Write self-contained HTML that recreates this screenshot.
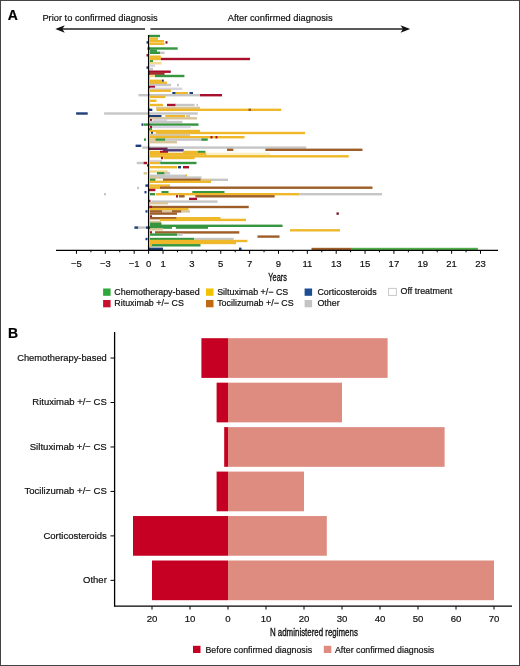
<!DOCTYPE html>
<html><head><meta charset="utf-8"><style>
html,body{margin:0;padding:0;background:#fff;}
#c{position:relative;width:520px;height:666px;overflow:hidden;background:#fff;}
#b{position:absolute;left:0;top:0;width:518px;height:664px;border:1px solid #444;}
</style></head><body><div id="c"><svg width="520" height="666" viewBox="0 0 520 666" style="position:absolute;left:0;top:0;will-change:transform;font-family:'Liberation Sans',sans-serif"><text x="7.80" y="19.70" font-size="14" text-anchor="start" font-weight="bold" fill="#000" stroke="#000" stroke-width="0.2" >A</text><text x="42.40" y="20.90" font-size="9.3" text-anchor="start" font-weight="normal" fill="#111" stroke="#111" stroke-width="0.2" >Prior to confirmed diagnosis</text><text x="227.70" y="20.90" font-size="9.3" text-anchor="start" font-weight="normal" fill="#111" stroke="#111" stroke-width="0.2" >After confirmed diagnosis</text><line x1="62.00" y1="28.95" x2="145.00" y2="28.95" stroke="#222" stroke-width="1.6"/><line x1="150.40" y1="28.95" x2="403.00" y2="28.95" stroke="#222" stroke-width="1.6"/><path d="M55.3,28.9 L64.8,25.2 L62.3,28.9 L64.8,32.7 Z" fill="#111"/><path d="M410.2,28.9 L400.5,25.2 L403,28.9 L400.5,32.7 Z" fill="#111"/><rect x="148.80" y="34.80" width="11.20" height="2.40" fill="#35963f" /><rect x="150.00" y="37.50" width="8.00" height="2.40" fill="#eeb82a" /><rect x="150.00" y="40.00" width="14.00" height="2.40" fill="#eeb82a" /><rect x="165.50" y="41.20" width="2.00" height="2.40" fill="#7a0f25" /><rect x="146.50" y="41.20" width="2.00" height="2.40" fill="#1f3f7a" /><rect x="150.00" y="42.60" width="14.50" height="2.40" fill="#eeb82a" /><rect x="148.80" y="47.30" width="28.90" height="2.40" fill="#35963f" /><rect x="147.50" y="47.30" width="2.00" height="2.40" fill="#1f3f7a" /><rect x="150.00" y="49.50" width="7.00" height="2.40" fill="#35963f" /><rect x="150.00" y="51.60" width="10.00" height="2.40" fill="#35963f" /><rect x="160.00" y="51.60" width="4.60" height="2.40" fill="#c6c6c6" /><rect x="146.50" y="54.10" width="2.00" height="2.40" fill="#a80f2c" /><rect x="150.00" y="55.50" width="10.80" height="2.40" fill="#eeb82a" /><rect x="150.00" y="57.80" width="10.80" height="2.40" fill="#eeb82a" /><rect x="160.80" y="57.80" width="89.20" height="2.40" fill="#a80f2c" /><rect x="150.00" y="60.10" width="3.00" height="2.40" fill="#35963f" /><rect x="150.00" y="62.10" width="11.50" height="2.40" fill="#f3d98a" /><rect x="150.00" y="64.40" width="5.00" height="2.40" fill="#d8d3e3" /><rect x="146.50" y="66.40" width="2.00" height="2.40" fill="#1f3f7a" /><rect x="150.00" y="67.80" width="3.00" height="2.40" fill="#c6c6c6" /><rect x="148.80" y="70.50" width="22.00" height="2.40" fill="#a80f2c" /><rect x="148.80" y="72.50" width="15.80" height="2.40" fill="#a3302a" /><rect x="150.00" y="74.80" width="5.00" height="2.40" fill="#f3d98a" /><rect x="155.00" y="74.80" width="29.40" height="2.40" fill="#35963f" /><rect x="150.00" y="79.60" width="13.00" height="2.40" fill="#eeb82a" /><rect x="162.00" y="79.60" width="1.80" height="2.40" fill="#1f3f7a" /><rect x="150.00" y="81.60" width="16.90" height="2.40" fill="#eeb82a" /><rect x="150.00" y="83.80" width="21.00" height="2.40" fill="#c6c6c6" /><rect x="177.00" y="83.80" width="2.00" height="2.40" fill="#c6c6c6" /><rect x="148.80" y="85.80" width="6.20" height="2.40" fill="#a80f2c" /><rect x="150.00" y="87.60" width="32.30" height="2.40" fill="#d8d3e3" /><rect x="150.00" y="89.50" width="21.00" height="2.40" fill="#eeb82a" /><rect x="172.30" y="92.00" width="3.40" height="2.40" fill="#1f3f7a" /><rect x="175.70" y="92.00" width="12.30" height="2.40" fill="#eeb82a" /><rect x="189.50" y="92.00" width="3.50" height="2.40" fill="#1f3f7a" /><rect x="138.50" y="94.00" width="61.50" height="2.40" fill="#c6c6c6" /><rect x="200.00" y="94.00" width="22.00" height="2.40" fill="#a80f2c" /><rect x="150.00" y="95.70" width="15.40" height="2.40" fill="#eeb82a" /><rect x="150.00" y="99.60" width="6.50" height="2.40" fill="#eeb82a" /><rect x="150.00" y="103.80" width="13.00" height="2.40" fill="#eeb82a" /><rect x="167.00" y="103.80" width="8.70" height="2.40" fill="#a80f2c" /><rect x="175.70" y="103.80" width="18.90" height="2.40" fill="#c6c6c6" /><rect x="196.50" y="103.80" width="1.50" height="2.40" fill="#c6c6c6" /><rect x="156.00" y="106.70" width="44.00" height="2.40" fill="#d9c59a" /><rect x="148.80" y="108.60" width="3.50" height="2.40" fill="#1f3f7a" /><rect x="156.50" y="108.60" width="124.75" height="2.40" fill="#eeb82a" /><rect x="248.50" y="108.60" width="2.50" height="2.40" fill="#9e5e28" /><rect x="76.10" y="112.30" width="11.60" height="2.40" fill="#1f3f7a" /><rect x="104.10" y="112.30" width="93.60" height="2.40" fill="#c6c6c6" /><rect x="148.80" y="115.00" width="12.70" height="2.40" fill="#1f3f7a" /><rect x="165.40" y="115.00" width="19.60" height="2.40" fill="#eeb82a" /><rect x="186.00" y="115.00" width="4.00" height="2.40" fill="#d9c59a" /><rect x="150.00" y="117.10" width="47.00" height="2.40" fill="#d9c59a" /><rect x="150.00" y="119.00" width="2.00" height="2.40" fill="#a80f2c" /><rect x="153.00" y="119.00" width="14.00" height="2.40" fill="#d8d3e3" /><rect x="150.00" y="120.80" width="32.30" height="2.40" fill="#c6c6c6" /><rect x="141.50" y="123.40" width="1.70" height="2.40" fill="#1f3f7a" /><rect x="143.50" y="123.40" width="55.00" height="2.40" fill="#35963f" /><rect x="150.00" y="125.80" width="40.80" height="2.40" fill="#d8d3e3" /><rect x="150.00" y="125.80" width="2.00" height="2.40" fill="#a80f2c" /><rect x="148.80" y="128.10" width="3.20" height="2.40" fill="#35963f" /><rect x="150.00" y="129.80" width="50.00" height="2.40" fill="#eeb82a" /><rect x="156.00" y="131.80" width="149.00" height="2.40" fill="#eeb82a" /><rect x="151.00" y="131.80" width="2.00" height="2.40" fill="#1f3f7a" /><rect x="150.00" y="133.70" width="40.00" height="2.40" fill="#d9c59a" /><rect x="150.00" y="136.00" width="94.50" height="2.40" fill="#eeb82a" /><rect x="210.50" y="136.00" width="2.00" height="2.40" fill="#a80f2c" /><rect x="215.50" y="136.00" width="2.00" height="2.40" fill="#a80f2c" /><rect x="150.00" y="138.40" width="5.40" height="2.40" fill="#d9c59a" /><rect x="155.40" y="138.40" width="10.10" height="2.40" fill="#35963f" /><rect x="165.00" y="138.40" width="38.00" height="2.40" fill="#c6c6c6" /><rect x="201.50" y="138.40" width="6.20" height="2.40" fill="#35963f" /><rect x="144.00" y="138.40" width="2.00" height="2.40" fill="#35963f" /><rect x="150.00" y="141.00" width="27.00" height="2.40" fill="#d9c59a" /><rect x="135.60" y="144.60" width="5.70" height="2.40" fill="#1f3f7a" /><rect x="142.30" y="146.40" width="164.00" height="2.40" fill="#c6c6c6" /><rect x="148.80" y="147.60" width="18.70" height="2.40" fill="#6a1f45" /><rect x="227.00" y="148.60" width="6.30" height="2.40" fill="#9e5e28" /><rect x="265.40" y="148.60" width="97.10" height="2.40" fill="#9e5e28" /><rect x="162.80" y="149.10" width="20.90" height="2.40" fill="#4a3a78" /><rect x="150.00" y="150.80" width="12.00" height="2.40" fill="#eeb82a" /><rect x="160.00" y="150.80" width="8.00" height="2.40" fill="#a80f2c" /><rect x="183.00" y="150.80" width="14.80" height="2.40" fill="#eeb82a" /><rect x="197.80" y="150.80" width="7.60" height="2.40" fill="#35963f" /><rect x="150.00" y="152.70" width="56.50" height="2.40" fill="#eeb82a" /><rect x="206.50" y="152.70" width="63.50" height="2.40" fill="#f9eec4" /><rect x="150.00" y="155.10" width="198.75" height="2.40" fill="#eeb82a" /><rect x="164.00" y="156.80" width="30.60" height="2.40" fill="#eeb82a" /><rect x="161.00" y="156.80" width="2.00" height="2.40" fill="#a80f2c" /><rect x="150.00" y="159.80" width="12.00" height="2.40" fill="#d8d3e3" /><rect x="136.70" y="161.80" width="6.90" height="2.40" fill="#c6c6c6" /><rect x="143.60" y="161.80" width="3.50" height="2.40" fill="#a80f2c" /><rect x="150.00" y="161.80" width="10.00" height="2.40" fill="#eeb82a" /><rect x="160.20" y="161.80" width="36.30" height="2.40" fill="#35963f" /><rect x="147.00" y="164.20" width="1.80" height="2.40" fill="#1f3f7a" /><rect x="150.00" y="166.00" width="27.00" height="2.40" fill="#eeb82a" /><rect x="178.00" y="166.00" width="3.00" height="2.40" fill="#1f3f7a" /><rect x="183.00" y="166.00" width="6.00" height="2.40" fill="#a80f2c" /><rect x="150.00" y="170.30" width="17.70" height="2.40" fill="#f3d98a" /><rect x="143.60" y="172.10" width="3.40" height="2.40" fill="#d9c59a" /><rect x="157.00" y="172.10" width="7.60" height="2.40" fill="#35963f" /><rect x="164.60" y="172.10" width="5.40" height="2.40" fill="#c6c6c6" /><rect x="150.00" y="174.60" width="36.00" height="2.40" fill="#c6c6c6" /><rect x="185.00" y="174.60" width="2.00" height="2.40" fill="#eeb82a" /><rect x="150.00" y="176.40" width="9.00" height="2.40" fill="#d9c59a" /><rect x="159.00" y="176.40" width="42.50" height="2.40" fill="#c6c6c6" /><rect x="150.00" y="178.60" width="5.40" height="2.40" fill="#35963f" /><rect x="163.00" y="178.60" width="37.80" height="2.40" fill="#9e5e28" /><rect x="200.80" y="178.60" width="11.20" height="2.40" fill="#d9c59a" /><rect x="212.00" y="178.60" width="16.00" height="2.40" fill="#c6c6c6" /><rect x="150.00" y="180.60" width="61.00" height="2.40" fill="#eeb82a" /><rect x="145.40" y="184.40" width="3.40" height="2.40" fill="#1f3f7a" /><rect x="150.00" y="184.40" width="20.00" height="2.40" fill="#eeb82a" /><rect x="150.00" y="186.50" width="10.00" height="2.40" fill="#eeb82a" /><rect x="160.00" y="186.50" width="212.50" height="2.40" fill="#9e5e28" /><rect x="148.00" y="188.80" width="7.40" height="2.40" fill="#a80f2c" /><rect x="137.00" y="186.80" width="2.00" height="2.40" fill="#c6c6c6" /><rect x="144.50" y="191.00" width="2.00" height="2.40" fill="#1f3f7a" /><rect x="161.50" y="191.00" width="7.00" height="2.40" fill="#35963f" /><rect x="192.30" y="191.00" width="32.20" height="2.40" fill="#35963f" /><rect x="150.00" y="193.00" width="5.00" height="2.40" fill="#35963f" /><rect x="156.00" y="193.00" width="143.60" height="2.40" fill="#eeb82a" /><rect x="299.60" y="193.00" width="82.40" height="2.40" fill="#c6c6c6" /><rect x="104.00" y="193.00" width="2.00" height="2.40" fill="#c6c6c6" /><rect x="176.00" y="195.10" width="2.00" height="2.40" fill="#a80f2c" /><rect x="179.00" y="195.10" width="5.60" height="2.40" fill="#9e5e28" /><rect x="195.40" y="195.10" width="79.20" height="2.40" fill="#9e5e28" /><rect x="189.00" y="197.70" width="8.00" height="2.40" fill="#a80f2c" /><rect x="148.50" y="199.80" width="2.00" height="2.40" fill="#a80f2c" /><rect x="151.50" y="200.40" width="66.00" height="2.40" fill="#c6c6c6" /><rect x="150.00" y="202.00" width="18.00" height="2.40" fill="#d9c59a" /><rect x="148.80" y="205.80" width="99.95" height="2.40" fill="#9e5e28" /><rect x="150.00" y="205.80" width="2.00" height="2.40" fill="#a80f2c" /><rect x="150.00" y="208.00" width="38.50" height="2.40" fill="#eeb82a" /><rect x="145.50" y="210.20" width="2.00" height="2.40" fill="#1f3f7a" /><rect x="150.00" y="210.20" width="12.30" height="2.40" fill="#9e5e28" /><rect x="162.30" y="210.20" width="9.70" height="2.40" fill="#d9c59a" /><rect x="172.00" y="210.20" width="9.50" height="2.40" fill="#9e5e28" /><rect x="181.50" y="210.20" width="8.50" height="2.40" fill="#d9c59a" /><rect x="150.00" y="212.40" width="27.00" height="2.40" fill="#9e5e28" /><rect x="336.50" y="212.40" width="2.30" height="2.40" fill="#7a0f25" /><rect x="150.00" y="215.30" width="2.00" height="2.40" fill="#a80f2c" /><rect x="150.00" y="217.00" width="26.70" height="2.40" fill="#9e5e28" /><rect x="176.70" y="217.00" width="43.80" height="2.40" fill="#eeb82a" /><rect x="160.00" y="218.70" width="86.00" height="2.40" fill="#eeb82a" /><rect x="150.00" y="220.80" width="11.00" height="2.40" fill="#d9c59a" /><rect x="150.00" y="222.60" width="11.50" height="2.40" fill="#35963f" /><rect x="150.00" y="224.60" width="132.50" height="2.40" fill="#35963f" /><rect x="134.40" y="226.40" width="3.90" height="2.40" fill="#1f3f7a" /><rect x="138.30" y="226.40" width="7.70" height="2.40" fill="#c6c6c6" /><rect x="146.00" y="226.40" width="4.00" height="2.40" fill="#1f3f7a" /><rect x="150.00" y="226.40" width="22.00" height="2.40" fill="#35963f" /><rect x="175.80" y="226.40" width="32.20" height="2.40" fill="#35963f" /><rect x="150.00" y="228.10" width="13.00" height="2.40" fill="#d9c59a" /><rect x="290.00" y="229.10" width="50.00" height="2.40" fill="#eeb82a" /><rect x="150.00" y="231.20" width="2.00" height="2.40" fill="#a80f2c" /><rect x="155.00" y="231.20" width="84.30" height="2.40" fill="#9e5e28" /><rect x="150.00" y="233.40" width="27.00" height="2.40" fill="#35963f" /><rect x="177.00" y="233.40" width="5.50" height="2.40" fill="#c6c6c6" /><rect x="257.50" y="235.40" width="22.00" height="2.40" fill="#9e5e28" /><rect x="145.50" y="237.80" width="2.00" height="2.40" fill="#1f3f7a" /><rect x="150.00" y="237.80" width="44.30" height="2.40" fill="#35963f" /><rect x="194.30" y="237.80" width="39.30" height="2.40" fill="#c6c6c6" /><rect x="150.00" y="239.80" width="97.40" height="2.40" fill="#eeb82a" /><rect x="150.00" y="241.80" width="86.00" height="2.40" fill="#eeb82a" /><rect x="150.00" y="244.10" width="50.50" height="2.40" fill="#35963f" /><rect x="150.00" y="244.10" width="2.00" height="2.40" fill="#eeb82a" /><rect x="148.80" y="247.60" width="14.20" height="2.40" fill="#1f3f7a" /><rect x="239.00" y="247.60" width="2.50" height="2.40" fill="#1f3f7a" /><rect x="311.50" y="247.80" width="39.50" height="2.40" fill="#9e5e28" /><rect x="351.00" y="247.80" width="126.90" height="2.40" fill="#4fae4a" /><line x1="56.00" y1="250.40" x2="498.00" y2="250.40" stroke="#000" stroke-width="1.3"/><line x1="148.60" y1="35.00" x2="148.60" y2="251.00" stroke="#000" stroke-width="1.3"/><line x1="76.45" y1="250.40" x2="76.45" y2="253.80" stroke="#000" stroke-width="1"/><line x1="90.88" y1="250.40" x2="90.88" y2="252.30" stroke="#000" stroke-width="1"/><line x1="105.31" y1="250.40" x2="105.31" y2="253.80" stroke="#000" stroke-width="1"/><line x1="119.74" y1="250.40" x2="119.74" y2="252.30" stroke="#000" stroke-width="1"/><line x1="134.17" y1="250.40" x2="134.17" y2="253.80" stroke="#000" stroke-width="1"/><line x1="148.60" y1="250.40" x2="148.60" y2="253.80" stroke="#000" stroke-width="1"/><line x1="163.03" y1="250.40" x2="163.03" y2="253.80" stroke="#000" stroke-width="1"/><line x1="177.46" y1="250.40" x2="177.46" y2="252.30" stroke="#000" stroke-width="1"/><line x1="191.89" y1="250.40" x2="191.89" y2="253.80" stroke="#000" stroke-width="1"/><line x1="206.32" y1="250.40" x2="206.32" y2="252.30" stroke="#000" stroke-width="1"/><line x1="220.75" y1="250.40" x2="220.75" y2="253.80" stroke="#000" stroke-width="1"/><line x1="235.18" y1="250.40" x2="235.18" y2="252.30" stroke="#000" stroke-width="1"/><line x1="249.61" y1="250.40" x2="249.61" y2="253.80" stroke="#000" stroke-width="1"/><line x1="264.04" y1="250.40" x2="264.04" y2="252.30" stroke="#000" stroke-width="1"/><line x1="278.47" y1="250.40" x2="278.47" y2="253.80" stroke="#000" stroke-width="1"/><line x1="292.90" y1="250.40" x2="292.90" y2="252.30" stroke="#000" stroke-width="1"/><line x1="307.33" y1="250.40" x2="307.33" y2="253.80" stroke="#000" stroke-width="1"/><line x1="321.76" y1="250.40" x2="321.76" y2="252.30" stroke="#000" stroke-width="1"/><line x1="336.19" y1="250.40" x2="336.19" y2="253.80" stroke="#000" stroke-width="1"/><line x1="350.62" y1="250.40" x2="350.62" y2="252.30" stroke="#000" stroke-width="1"/><line x1="365.05" y1="250.40" x2="365.05" y2="253.80" stroke="#000" stroke-width="1"/><line x1="379.48" y1="250.40" x2="379.48" y2="252.30" stroke="#000" stroke-width="1"/><line x1="393.91" y1="250.40" x2="393.91" y2="253.80" stroke="#000" stroke-width="1"/><line x1="408.34" y1="250.40" x2="408.34" y2="252.30" stroke="#000" stroke-width="1"/><line x1="422.77" y1="250.40" x2="422.77" y2="253.80" stroke="#000" stroke-width="1"/><line x1="437.20" y1="250.40" x2="437.20" y2="252.30" stroke="#000" stroke-width="1"/><line x1="451.63" y1="250.40" x2="451.63" y2="253.80" stroke="#000" stroke-width="1"/><line x1="466.06" y1="250.40" x2="466.06" y2="252.30" stroke="#000" stroke-width="1"/><line x1="480.49" y1="250.40" x2="480.49" y2="253.80" stroke="#000" stroke-width="1"/><text x="76.45" y="266.60" font-size="9.5" text-anchor="middle" font-weight="normal" fill="#111" stroke="#111" stroke-width="0.2" >−5</text><text x="105.31" y="266.60" font-size="9.5" text-anchor="middle" font-weight="normal" fill="#111" stroke="#111" stroke-width="0.2" >−3</text><text x="134.17" y="266.60" font-size="9.5" text-anchor="middle" font-weight="normal" fill="#111" stroke="#111" stroke-width="0.2" >−1</text><text x="148.60" y="266.60" font-size="9.5" text-anchor="middle" font-weight="normal" fill="#111" stroke="#111" stroke-width="0.2" >0</text><text x="163.03" y="266.60" font-size="9.5" text-anchor="middle" font-weight="normal" fill="#111" stroke="#111" stroke-width="0.2" >1</text><text x="191.89" y="266.60" font-size="9.5" text-anchor="middle" font-weight="normal" fill="#111" stroke="#111" stroke-width="0.2" >3</text><text x="220.75" y="266.60" font-size="9.5" text-anchor="middle" font-weight="normal" fill="#111" stroke="#111" stroke-width="0.2" >5</text><text x="249.61" y="266.60" font-size="9.5" text-anchor="middle" font-weight="normal" fill="#111" stroke="#111" stroke-width="0.2" >7</text><text x="278.47" y="266.60" font-size="9.5" text-anchor="middle" font-weight="normal" fill="#111" stroke="#111" stroke-width="0.2" >9</text><text x="307.33" y="266.60" font-size="9.5" text-anchor="middle" font-weight="normal" fill="#111" stroke="#111" stroke-width="0.2" >11</text><text x="336.19" y="266.60" font-size="9.5" text-anchor="middle" font-weight="normal" fill="#111" stroke="#111" stroke-width="0.2" >13</text><text x="365.05" y="266.60" font-size="9.5" text-anchor="middle" font-weight="normal" fill="#111" stroke="#111" stroke-width="0.2" >15</text><text x="393.91" y="266.60" font-size="9.5" text-anchor="middle" font-weight="normal" fill="#111" stroke="#111" stroke-width="0.2" >17</text><text x="422.77" y="266.60" font-size="9.5" text-anchor="middle" font-weight="normal" fill="#111" stroke="#111" stroke-width="0.2" >19</text><text x="451.63" y="266.60" font-size="9.5" text-anchor="middle" font-weight="normal" fill="#111" stroke="#111" stroke-width="0.2" >21</text><text x="480.49" y="266.60" font-size="9.5" text-anchor="middle" font-weight="normal" fill="#111" stroke="#111" stroke-width="0.2" >23</text><text x="277.60" y="280.80" font-size="11" text-anchor="middle" font-weight="normal" fill="#111" stroke="#111" stroke-width="0.35" transform="translate(277.6,0) scale(0.67,1) translate(-277.6,0)">Years</text><rect x="103.10" y="288.50" width="7.50" height="7.30" fill="#2ea83a" /><text x="114.30" y="294.80" font-size="8.9" text-anchor="start" font-weight="normal" fill="#111" stroke="#111" stroke-width="0.2" >Chemotherapy-based</text><rect x="103.10" y="300.00" width="7.50" height="7.30" fill="#c8102e" /><text x="114.30" y="306.30" font-size="8.9" text-anchor="start" font-weight="normal" fill="#111" stroke="#111" stroke-width="0.2" >Rituximab +/− CS</text><rect x="206.00" y="288.50" width="7.50" height="7.30" fill="#f2c100" /><text x="217.20" y="294.80" font-size="8.9" text-anchor="start" font-weight="normal" fill="#111" stroke="#111" stroke-width="0.2" >Siltuximab +/− CS</text><rect x="206.00" y="300.00" width="7.50" height="7.30" fill="#bf6a12" /><text x="217.20" y="306.30" font-size="8.9" text-anchor="start" font-weight="normal" fill="#111" stroke="#111" stroke-width="0.2" >Tocilizumab +/− CS</text><rect x="304.60" y="288.50" width="7.50" height="7.30" fill="#1d4e94" /><text x="317.40" y="294.80" font-size="8.9" text-anchor="start" font-weight="normal" fill="#111" stroke="#111" stroke-width="0.2" >Corticosteroids</text><rect x="304.60" y="300.00" width="7.50" height="7.30" fill="#c4c4c4" /><text x="317.40" y="306.30" font-size="8.9" text-anchor="start" font-weight="normal" fill="#111" stroke="#111" stroke-width="0.2" >Other</text><rect x="388.60" y="288.40" width="7.80" height="7.00" fill="#fff" stroke="#c8c8c8" stroke-width="1"/><text x="400.60" y="294.40" font-size="8.9" text-anchor="start" font-weight="normal" fill="#111" stroke="#111" stroke-width="0.2" >Off treatment</text><text x="8.00" y="338.20" font-size="14" text-anchor="start" font-weight="bold" fill="#000" stroke="#000" stroke-width="0.2" >B</text><rect x="201.40" y="338.20" width="26.60" height="39.70" fill="#c50022" /><rect x="228.00" y="338.20" width="159.60" height="39.70" fill="#de8c80" /><line x1="110.50" y1="358.05" x2="114.60" y2="358.05" stroke="#000" stroke-width="1"/><text x="17.20" y="360.95" font-size="9.6" text-anchor="start" font-weight="normal" fill="#111" stroke="#111" stroke-width="0.2" textLength="89.6" lengthAdjust="spacingAndGlyphs">Chemotherapy-based</text><rect x="216.60" y="382.66" width="11.40" height="39.70" fill="#c50022" /><rect x="228.00" y="382.66" width="114.00" height="39.70" fill="#de8c80" /><line x1="110.50" y1="402.51" x2="114.60" y2="402.51" stroke="#000" stroke-width="1"/><text x="32.30" y="405.41" font-size="9.6" text-anchor="start" font-weight="normal" fill="#111" stroke="#111" stroke-width="0.2" textLength="74.5" lengthAdjust="spacingAndGlyphs">Rituximab +/− CS</text><rect x="224.20" y="427.12" width="3.80" height="39.70" fill="#c50022" /><rect x="228.00" y="427.12" width="216.60" height="39.70" fill="#de8c80" /><line x1="110.50" y1="446.97" x2="114.60" y2="446.97" stroke="#000" stroke-width="1"/><text x="29.70" y="449.87" font-size="9.6" text-anchor="start" font-weight="normal" fill="#111" stroke="#111" stroke-width="0.2" textLength="77.1" lengthAdjust="spacingAndGlyphs">Siltuximab +/− CS</text><rect x="216.60" y="471.58" width="11.40" height="39.70" fill="#c50022" /><rect x="228.00" y="471.58" width="76.00" height="39.70" fill="#de8c80" /><line x1="110.50" y1="491.43" x2="114.60" y2="491.43" stroke="#000" stroke-width="1"/><text x="24.50" y="494.33" font-size="9.6" text-anchor="start" font-weight="normal" fill="#111" stroke="#111" stroke-width="0.2" textLength="82.3" lengthAdjust="spacingAndGlyphs">Tocilizumab +/− CS</text><rect x="133.00" y="516.04" width="95.00" height="39.70" fill="#c50022" /><rect x="228.00" y="516.04" width="98.80" height="39.70" fill="#de8c80" /><line x1="110.50" y1="535.89" x2="114.60" y2="535.89" stroke="#000" stroke-width="1"/><text x="43.40" y="538.79" font-size="9.6" text-anchor="start" font-weight="normal" fill="#111" stroke="#111" stroke-width="0.2" textLength="63.4" lengthAdjust="spacingAndGlyphs">Corticosteroids</text><rect x="152.00" y="560.50" width="76.00" height="39.70" fill="#c50022" /><rect x="228.00" y="560.50" width="266.00" height="39.70" fill="#de8c80" /><line x1="110.50" y1="580.35" x2="114.60" y2="580.35" stroke="#000" stroke-width="1"/><text x="83.10" y="583.25" font-size="9.6" text-anchor="start" font-weight="normal" fill="#111" stroke="#111" stroke-width="0.2" textLength="23.7" lengthAdjust="spacingAndGlyphs">Other</text><line x1="114.60" y1="332.00" x2="114.60" y2="606.60" stroke="#000" stroke-width="1.3"/><line x1="114.00" y1="606.20" x2="512.00" y2="606.20" stroke="#000" stroke-width="1.3"/><line x1="152.00" y1="606.20" x2="152.00" y2="609.60" stroke="#000" stroke-width="1"/><text x="152.00" y="621.90" font-size="9.6" text-anchor="middle" font-weight="normal" fill="#111" stroke="#111" stroke-width="0.2" >20</text><line x1="190.00" y1="606.20" x2="190.00" y2="609.60" stroke="#000" stroke-width="1"/><text x="190.00" y="621.90" font-size="9.6" text-anchor="middle" font-weight="normal" fill="#111" stroke="#111" stroke-width="0.2" >10</text><line x1="228.00" y1="606.20" x2="228.00" y2="609.60" stroke="#000" stroke-width="1"/><text x="228.00" y="621.90" font-size="9.6" text-anchor="middle" font-weight="normal" fill="#111" stroke="#111" stroke-width="0.2" >0</text><line x1="266.00" y1="606.20" x2="266.00" y2="609.60" stroke="#000" stroke-width="1"/><text x="266.00" y="621.90" font-size="9.6" text-anchor="middle" font-weight="normal" fill="#111" stroke="#111" stroke-width="0.2" >10</text><line x1="304.00" y1="606.20" x2="304.00" y2="609.60" stroke="#000" stroke-width="1"/><text x="304.00" y="621.90" font-size="9.6" text-anchor="middle" font-weight="normal" fill="#111" stroke="#111" stroke-width="0.2" >20</text><line x1="342.00" y1="606.20" x2="342.00" y2="609.60" stroke="#000" stroke-width="1"/><text x="342.00" y="621.90" font-size="9.6" text-anchor="middle" font-weight="normal" fill="#111" stroke="#111" stroke-width="0.2" >30</text><line x1="380.00" y1="606.20" x2="380.00" y2="609.60" stroke="#000" stroke-width="1"/><text x="380.00" y="621.90" font-size="9.6" text-anchor="middle" font-weight="normal" fill="#111" stroke="#111" stroke-width="0.2" >40</text><line x1="418.00" y1="606.20" x2="418.00" y2="609.60" stroke="#000" stroke-width="1"/><text x="418.00" y="621.90" font-size="9.6" text-anchor="middle" font-weight="normal" fill="#111" stroke="#111" stroke-width="0.2" >50</text><line x1="456.00" y1="606.20" x2="456.00" y2="609.60" stroke="#000" stroke-width="1"/><text x="456.00" y="621.90" font-size="9.6" text-anchor="middle" font-weight="normal" fill="#111" stroke="#111" stroke-width="0.2" >60</text><line x1="494.00" y1="606.20" x2="494.00" y2="609.60" stroke="#000" stroke-width="1"/><text x="494.00" y="621.90" font-size="9.6" text-anchor="middle" font-weight="normal" fill="#111" stroke="#111" stroke-width="0.2" >70</text><text x="313.90" y="636.00" font-size="11" text-anchor="middle" font-weight="normal" fill="#111" stroke="#111" stroke-width="0.35" transform="translate(313.9,0) scale(0.72,1) translate(-313.9,0)">N administered regimens</text><rect x="193.00" y="645.80" width="7.50" height="7.20" fill="#c50022" /><text x="205.50" y="652.60" font-size="8.8" text-anchor="start" font-weight="normal" fill="#111" stroke="#111" stroke-width="0.2" >Before confirmed diagnosis</text><rect x="323.80" y="645.80" width="7.50" height="7.20" fill="#de8c80" /><text x="335.00" y="652.60" font-size="8.8" text-anchor="start" font-weight="normal" fill="#111" stroke="#111" stroke-width="0.2" >After confirmed diagnosis</text></svg><div id="b"></div></div></body></html>
